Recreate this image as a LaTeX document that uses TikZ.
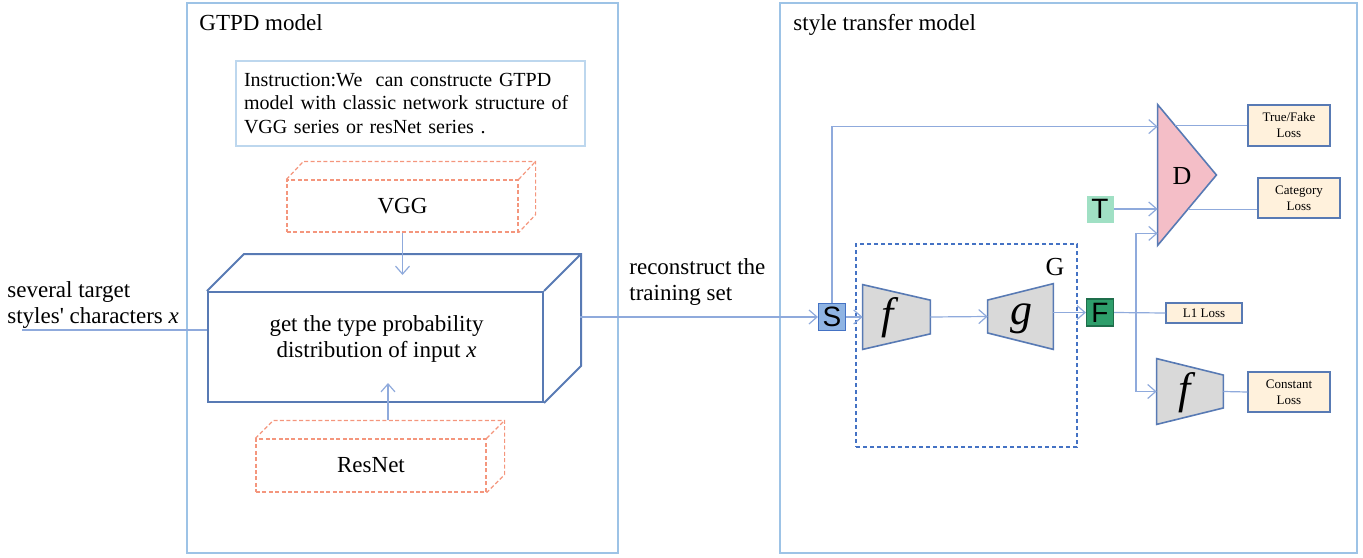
\documentclass[tikz,border=0pt]{standalone}
\usepackage{fontspec}
\setmainfont{Liberation Serif}
\newfontfamily\arialfont{Liberation Sans}
\usetikzlibrary{arrows.meta,calc}

\definecolor{panelblue}{RGB}{157,195,230}
\definecolor{infoblue}{RGB}{189,215,238}
\definecolor{linkblue}{RGB}{143,170,220}
\definecolor{edgeblue}{RGB}{88,122,180}
\definecolor{salmon}{RGB}{244,150,125}
\definecolor{dpink}{RGB}{244,190,199}
\definecolor{sblue}{RGB}{143,180,227}
\definecolor{sedge}{RGB}{68,114,196}
\definecolor{tgreen}{RGB}{160,224,196}
\definecolor{fgreen}{RGB}{46,158,107}
\definecolor{fedge}{RGB}{30,110,75}
\definecolor{trapgray}{RGB}{217,217,217}
\definecolor{lossfill}{RGB}{255,241,220}

\begin{document}
\begin{tikzpicture}[x=0.5pt,y=-0.5pt,
        >={Straight Barb[length=4pt,width=7pt]},
        panel/.style={draw=panelblue,line width=0.6pt},
        link/.style={draw=linkblue,line width=0.6pt},
        lbl/.style={inner sep=0pt,font=\fontsize{11.5}{13}\selectfont},
        infobox/.style={draw=infoblue,line width=0.6pt,inner xsep=4pt,inner ysep=0pt,
            text width=166.5pt,align=left,font=\fontsize{10}{11.75}\selectfont},
        netbox/.style={draw=salmon,dash pattern=on 2pt off 1.2pt,line width=0.6pt,
            inner sep=0pt,font=\fontsize{11.5}{13}\selectfont},
        cube/.style={draw=edgeblue,line width=1pt,inner sep=0pt},
        trapbox/.style={inner sep=0pt},
        trap/.style={draw=edgeblue,line width=0.8pt,fill=trapgray},
        fsym/.style={inner sep=0pt,font=\fontsize{22}{22}\selectfont\itshape},
        gbox/.style={draw=sedge,dash pattern=on 2pt off 1.5pt,line width=0.6pt,inner sep=0pt},
        sq/.style={minimum size=13.5pt,inner sep=0pt,line width=0.6pt,
            font=\arialfont\fontsize{14}{14}\selectfont},
        lossbox/.style={draw=edgeblue,line width=0.6pt,fill=lossfill,inner sep=0pt,
            align=center,font=\fontsize{6.5}{8}\selectfont}]
    \useasboundingbox (0,0) rectangle (1363,557);

    \draw[panel] (187,3) rectangle (618,553);
    \draw[panel] (780,3) rectangle (1357,553);
    \node[lbl,anchor=base west] (gtpdtitle) at (199,30) {GTPD model};
    \node[lbl,anchor=base west] (sttitle) at (793,30) {style transfer model};

    \node[infobox,minimum height=42.5pt] (instr) at (410.5,103.5)
        {Instruction:We\ \ can constructe GTPD\\model with classic network structure of\\VGG series or resNet series .};

    \node[netbox,minimum width=115.5pt,minimum height=26pt] (vgg) at (402.5,206) {VGG};
    \draw[netbox] (vgg.north west) -- ++(17,-18) -- ($(vgg.north east)+(17,-18)$)
        -- ($(vgg.south east)+(17,-18)$) -- (vgg.south east)
        (vgg.north east) -- ++(17,-18);

    \node[cube,minimum width=167.5pt,minimum height=55pt] (prob) at (375.5,347) {};
    \draw[cube] (prob.north west) -- ++(37,-37) -- ($(prob.north east)+(37,-37)$)
        -- ($(prob.south east)+(37,-37)$) -- (prob.south east)
        (prob.north east) -- ++(37,-37);
    \node[lbl,align=center] (problbl) at (376.5,339)
        {get the type probability\\distribution of input \textit{x}};

    \node[netbox,minimum width=115pt,minimum height=26.5pt] (resnet) at (371,465.5) {ResNet};
    \draw[netbox] (resnet.north west) -- ++(18,-18) -- ($(resnet.north east)+(18,-18)$)
        -- ($(resnet.south east)+(18,-18)$) -- (resnet.south east)
        (resnet.north east) -- ++(18,-18);

    \coordinate (vggin) at (402.5,275);
    \coordinate (resin) at (388,383);
    \draw[link,->] (vgg.south) -- (vggin);
    \draw[link,->] ($(resnet.north)+(17,-18)$) -- (resin);

    \coordinate (inx) at (22,330);
    \draw[link] (inx) -- (prob.west |- inx);
    \node[lbl,anchor=west,align=left] (inlbl) at (7,304.5)
        {several target\\styles\textquotesingle{} characters \textit{x}};

    \node[lbl,anchor=west,align=left] (reclbl) at (629,281.5)
        {reconstruct the\\training set};

    \node[gbox,minimum width=110.5pt,minimum height=101.5pt] (gen) at (966.5,345.5) {};
    \node[inner sep=0pt,font=\fontsize{13}{13}\selectfont] (glbl) at (1055,267) {G};

    \node[sq,draw=sedge,fill=sblue] (S) at (832,317) {S};
    \node[sq,fill=tgreen] (T) at (1100,209) {T};
    \node[sq,draw=fedge,fill=fgreen] (F) at (1100,312.5) {F};

    \node[trapbox,minimum width=33.5pt,minimum height=32pt] (enc) at (896.5,317) {};
    \draw[trap] (enc.north west) -- ($(enc.north east)!0.24!(enc.south east)$)
        -- ($(enc.south east)!0.24!(enc.north east)$) -- (enc.south west) -- cycle;
    \node[fsym] (enclbl) at (888,317.5) {f};

    \node[trapbox,minimum width=32.5pt,minimum height=32.5pt] (dec) at (1020.5,316.5) {};
    \draw[trap] ($(dec.north west)!0.25!(dec.south west)$) -- (dec.north east)
        -- (dec.south east) -- ($(dec.south west)!0.25!(dec.north west)$) -- cycle;
    \node[fsym] (declbl) at (1021,318.5) {g};

    \node[trapbox,minimum width=33pt,minimum height=32.5pt] (enc2) at (1190,391.5) {};
    \draw[trap] (enc2.north west) -- ($(enc2.north east)!0.25!(enc2.south east)$)
        -- ($(enc2.south east)!0.25!(enc2.north east)$) -- (enc2.south west) -- cycle;
    \node[fsym] (enc2lbl) at (1185,392.5) {f};

    \node[trapbox,minimum width=29pt,minimum height=70pt] (disc) at (1187,175) {};
    \draw[draw=edgeblue,line width=0.8pt,fill=dpink]
        (disc.north west) -- (disc.east) -- (disc.south west) -- cycle;
    \node[inner sep=0pt,font=\fontsize{13}{13}\selectfont] (dlbl) at (1182,176) {D};

    \node[lossbox,minimum width=41pt,minimum height=20.5pt] (tfloss) at (1289,125.5) {True/Fake\\Loss};
    \node[lossbox,minimum width=41pt,minimum height=20pt] (catloss) at (1299,198) {Category\\Loss};
    \node[lossbox,minimum width=38pt,minimum height=10pt] (l1loss) at (1204,313) {L1 Loss};
    \node[lossbox,minimum width=41pt,minimum height=20pt] (constloss) at (1289,392) {Constant\\Loss};

    \coordinate (probout) at (580,317);
    \draw[link,->] (probout) -- (S.west);
    \draw[link,->] (S.north) |- ($(disc.north west)+(0,22)$);
    \draw[link,->] (S.east) -- (enc.west);
    \draw[link,->] (enc.east) -- (dec.west);
    \draw[link,->] (dec.east |- F.west) -- (F.west);
    \draw[link,->] (T.east) -- (T.east -| disc.west);
    \draw[link] (F.east) -- (l1loss.west);
    \coordinate (split) at (1136,312.5);
    \draw[link,->] (split) |- ($(disc.south west)+(0,-12)$);
    \draw[link,->] (split) |- (enc2.west);
    \draw[link] (enc2.east) -- (constloss.west);

    \coordinate (dtf) at ($(disc.north west)!0.3!(disc.east)$);
    \coordinate (dcat) at ($(disc.east)!0.486!(disc.south west)$);
    \draw[link] (dtf) -- (dtf -| tfloss.west);
    \draw[link] (dcat) -- (dcat -| catloss.west);
\end{tikzpicture}
\end{document}
